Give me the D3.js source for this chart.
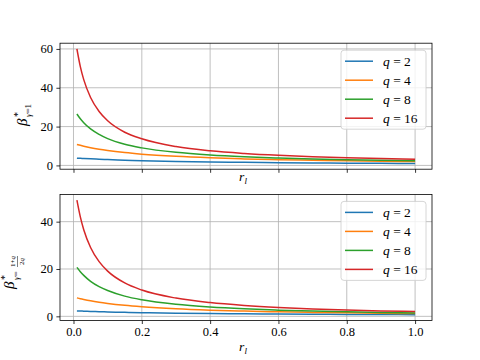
<!DOCTYPE html>
<html>
<head>
<meta charset="utf-8">
<script src="https://cdn.jsdelivr.net/npm/d3@7"></script>
<style>
body { margin: 0; background: #fff; }
text { font-family: "Liberation Serif", "DejaVu Serif", serif; }
</style>
</head>
<body>
<div id="chart"></div>
<script>
// r_l sample points
let rl = [0.01, 0.02, 0.03, 0.05, 0.075, 0.1, 0.15, 0.2, 0.3, 0.4, 0.5, 0.6, 0.7, 0.8, 0.9, 1.0];

// beta*, gamma = 1
let top_q2  = [3.75, 3.65, 3.55, 3.38, 3.18, 3.0, 2.7, 2.45, 2.08, 1.8, 1.59, 1.42, 1.29, 1.17, 1.08, 1.0];
let top_q4  = [10.8, 10.35, 9.92, 9.15, 8.35, 7.68, 6.61, 5.8, 4.67, 3.9, 3.35, 2.94, 2.62, 2.36, 2.14, 1.97];
let top_q8  = [26.5, 24.0, 22.0, 18.8, 16.0, 13.8, 10.9, 9.04, 6.72, 5.34, 4.43, 3.79, 3.31, 2.94, 2.64, 2.4];
let top_q16 = [60.0, 50.9, 44.2, 35.0, 27.8, 23.0, 17.1, 13.7, 9.7, 7.5, 6.15, 5.2, 4.5, 3.97, 3.55, 3.21];

// beta*, gamma = (1+q)/(2q)
let bot_q2  = [2.3, 2.24, 2.19, 2.08, 1.97, 1.86, 1.69, 1.55, 1.33, 1.17, 1.04, 0.95, 0.87, 0.8, 0.75, 0.7];
let bot_q4  = [7.8, 7.45, 7.13, 6.55, 5.95, 5.45, 4.65, 4.05, 3.19, 2.62, 2.21, 1.9, 1.66, 1.46, 1.3, 1.17];
let bot_q8  = [20.7, 18.85, 17.3, 14.8, 12.56, 10.9, 8.53, 6.98, 5.06, 3.92, 3.16, 2.62, 2.21, 1.9, 1.65, 1.44];
let bot_q16 = [49.1, 42.0, 36.6, 29.1, 23.1, 19.1, 14.1, 11.1, 7.7, 5.8, 4.6, 3.75, 3.14, 2.67, 2.3, 2.0];

let q_labels = ["2", "4", "8", "16"];
let colors = ["#1f77b4", "#ff7f0e", "#2ca02c", "#d62728"];
let x_ticks = [0.0, 0.2, 0.4, 0.6, 0.8, 1.0];
let top_yticks = [0, 20, 40, 60];
let bot_yticks = [0, 20, 40];

let W = 480, H = 360;
let left = 60, right = 432;
let serif = '"Liberation Serif", "DejaVu Serif", serif';

let svg = d3.select("#chart").append("svg")
    .attr("width", W)
    .attr("height", H)
    .attr("font-family", serif);

// matplotlib style autoscale with 5% margins
function padded(lo, hi){
    let m = (hi - lo) * 0.05;
    return [lo - m, hi + m];
}

let x = d3.scaleLinear()
    .domain(padded(d3.min(rl), d3.max(rl)))
    .range([left, right]);

function draw_panel(series, y0, y1, yticks, show_xlabels){
    let all = series.flat();
    let y = d3.scaleLinear()
        .domain(padded(d3.min(all), d3.max(all)))
        .range([y1, y0]);

    let g = svg.append("g");

    // grid
    g.append("g").selectAll("line")
        .data(x_ticks)
        .join("line")
        .attr("x1", d => x(d)).attr("x2", d => x(d))
        .attr("y1", y0).attr("y2", y1)
        .attr("stroke", "#b0b0b0").attr("stroke-width", 0.8);
    g.append("g").selectAll("line")
        .data(yticks)
        .join("line")
        .attr("x1", left).attr("x2", right)
        .attr("y1", d => y(d)).attr("y2", d => y(d))
        .attr("stroke", "#b0b0b0").attr("stroke-width", 0.8);

    // curves
    let line = d3.line()
        .x((d, i) => x(rl[i]))
        .y(d => y(d))
        .curve(d3.curveMonotoneX);

    g.append("g").selectAll("path")
        .data(series)
        .join("path")
        .attr("d", d => line(d))
        .attr("fill", "none")
        .attr("stroke", (d, i) => colors[i])
        .attr("stroke-width", 1.5);

    // axes
    let xa = d3.axisBottom(x).tickValues(x_ticks).tickSize(3.6).tickPadding(3.5)
        .tickFormat(show_xlabels ? d3.format(".1f") : "");
    let ya = d3.axisLeft(y).tickValues(yticks).tickSize(3.6).tickPadding(3.5)
        .tickFormat(d3.format("d"));

    let gx = g.append("g").attr("transform", `translate(0,${y1})`).call(xa);
    let gy = g.append("g").attr("transform", `translate(${left},0)`).call(ya);
    [gx, gy].forEach(a => {
        a.attr("font-family", serif);
        a.select(".domain").remove();
        a.selectAll(".tick line").attr("stroke", "#000").attr("stroke-width", 0.8);
        a.selectAll(".tick text")
            .attr("fill", "#000")
            .style("font-size", "12.5px");
    });

    // frame
    g.append("rect")
        .attr("x", left).attr("y", y0)
        .attr("width", right - left).attr("height", y1 - y0)
        .attr("fill", "none")
        .attr("stroke", "#000")
        .attr("stroke-width", 0.8);

    // legend
    let lx = 341, ly = y0 + 7;
    let leg = g.append("g");
    leg.append("rect")
        .attr("x", lx).attr("y", ly)
        .attr("width", 85).attr("height", 79)
        .attr("rx", 3)
        .attr("fill", "#fff").attr("fill-opacity", 0.8)
        .attr("stroke", "#cccccc").attr("stroke-width", 0.8);
    q_labels.forEach(function(q, i){
        let ry = ly + 11 + i * 19;
        leg.append("line")
            .attr("x1", lx + 4).attr("x2", lx + 32)
            .attr("y1", ry).attr("y2", ry)
            .attr("stroke", colors[i]).attr("stroke-width", 1.5);
        let t = leg.append("text")
            .attr("x", lx + 42).attr("y", ry + 4.5)
            .style("font-size", "13.5px");
        t.append("tspan").style("font-style", "italic").text("q");
        t.append("tspan").text(" = " + q);
    });

    // x label r_l
    let xl = g.append("text")
        .attr("x", (left + right) / 2 - 3)
        .attr("y", y1 + (show_xlabels ? 31 : 12))
        .attr("text-anchor", "middle")
        .style("font-size", "13.5px");
    xl.append("tspan").style("font-style", "italic").text("r");
    xl.append("tspan").attr("dy", 3).style("font-style", "italic").style("font-size", "9px").text("l");

    return g;
}

draw_panel([top_q2, top_q4, top_q8, top_q16], 43.2, 169.2, top_yticks, false);
draw_panel([bot_q2, bot_q4, bot_q8, bot_q16], 194.4, 320.4, bot_yticks, true);

// y label top: beta*_{gamma=1}
let yl1 = svg.append("g").attr("transform", "translate(27,126) rotate(-90)");
yl1.append("text").attr("x", 0).attr("y", 0)
    .style("font-size", "15px").style("font-style", "italic").text("β");
yl1.append("text").attr("x", 9).attr("y", -6)
    .style("font-size", "10px").text("*");
yl1.append("text").attr("x", 9).attr("y", 4)
    .style("font-size", "9px")
    .call(t => {
        t.append("tspan").style("font-style", "italic").text("γ");
        t.append("tspan").text("=1");
    });

// y label bottom: beta*_{gamma=(1+q)/(2q)}
let yl2 = svg.append("g").attr("transform", "translate(14,289) rotate(-90)");
yl2.append("text").attr("x", 0).attr("y", 0)
    .style("font-size", "15px").style("font-style", "italic").text("β");
yl2.append("text").attr("x", 9).attr("y", -6)
    .style("font-size", "10px").text("*");
yl2.append("text").attr("x", 9).attr("y", 5)
    .style("font-size", "9px")
    .call(t => {
        t.append("tspan").style("font-style", "italic").text("γ");
        t.append("tspan").text("=");
    });
yl2.append("text").attr("x", 27.5).attr("y", 1).attr("text-anchor", "middle")
    .style("font-size", "7px")
    .call(t => {
        t.append("tspan").text("1+");
        t.append("tspan").style("font-style", "italic").text("q");
    });
yl2.append("line").attr("x1", 22).attr("x2", 33).attr("y1", 3.5).attr("y2", 3.5)
    .attr("stroke", "#000").attr("stroke-width", 0.5);
yl2.append("text").attr("x", 27.5).attr("y", 10).attr("text-anchor", "middle")
    .style("font-size", "7px")
    .call(t => {
        t.append("tspan").text("2");
        t.append("tspan").style("font-style", "italic").text("q");
    });
</script>
</body>
</html>
